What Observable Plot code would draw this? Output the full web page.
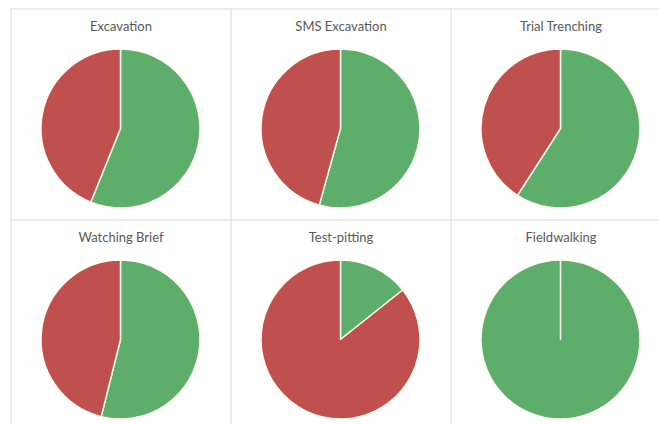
<!DOCTYPE html>
<html>
<head>
<meta charset="utf-8">
<script src="https://cdn.jsdelivr.net/npm/d3@7"></script>
<script src="https://cdn.jsdelivr.net/npm/@observablehq/plot@0.6"></script>
<style>
  html, body { margin: 0; padding: 0; background: #fff; }
  #chart { width: 659px; height: 424px; overflow: hidden; }
</style>
</head>
<body>
<div id="chart"></div>
<script>
// Data
const categories = ["Excavation", "SMS Excavation", "Trial Trenching", "Watching Brief", "Test-pitting", "Fieldwalking"];
const greenValues = [56.1, 54.3, 59.1, 53.9, 14.3, 100];
const redValues = [43.9, 45.7, 40.9, 46.1, 85.7, 0];
const seriesNames = ["Green", "Red"];
const seriesColors = ["#5eae6b", "#c0504d"];
const gridCols = [0, 1, 2];
const gridRows = [0, 1];

const cells = categories.map((name, i) => ({
  name, col: i % 3, row: Math.floor(i / 3),
  values: [greenValues[i], redValues[i]]
}));

const pieRadius = 79.5;

const pieMark = (index, scales, values, dimensions) => {
  const g = d3.create("svg:g");
  const arc = d3.arc().innerRadius(0).outerRadius(pieRadius);
  const color = d3.scaleOrdinal(seriesNames, seriesColors);
  for (const c of cells) {
    const cx = scales.x(c.col + 0.5);
    const cy = scales.y(c.row) + 120;
    const pg = g.append("g").attr("transform", `translate(${cx},${cy})`);
    const ps = d3.pie().sort(null).value(d => d.v)(c.values.map((v, k) => ({v, k})));
    const ordered = ps.filter(a => a.data.v > 0).concat(ps.filter(a => a.data.v === 0));
    for (const a of ordered) {
      pg.append("path")
        .attr("d", arc(a))
        .attr("fill", color(seriesNames[a.data.k]))
        .attr("stroke", "#fffbf0")
        .attr("stroke-width", 1.5)
        .attr("stroke-linejoin", "round");
    }
  }
  return g.node();
};

const plot = Plot.plot({
  width: 659,
  height: 424,
  margin: 0,
  x: {type: "linear", domain: [0, 3], range: [10.5, 670.5], axis: null},
  y: {type: "linear", domain: [0, 2], range: [8.5, 430.5], axis: null},
  style: {fontFamily: "Lato, 'Open Sans', sans-serif", background: "#fff"},
  marks: [
    Plot.ruleX(gridCols, {y1: 0, y2: 2, stroke: "#d9d9d9", strokeWidth: 1, strokeOpacity: 1}),
    Plot.ruleY(gridRows, {x1: 0, x2: 3, stroke: "#d9d9d9", strokeWidth: 1, strokeOpacity: 1}),
    pieMark,
    Plot.text(cells, {x: d => d.col + 0.5, y: "row", text: "name", dy: 18, fontSize: 13, fill: "#595959", lineAnchor: "middle"})
  ]
});
document.getElementById("chart").append(plot);
</script>
</body>
</html>
